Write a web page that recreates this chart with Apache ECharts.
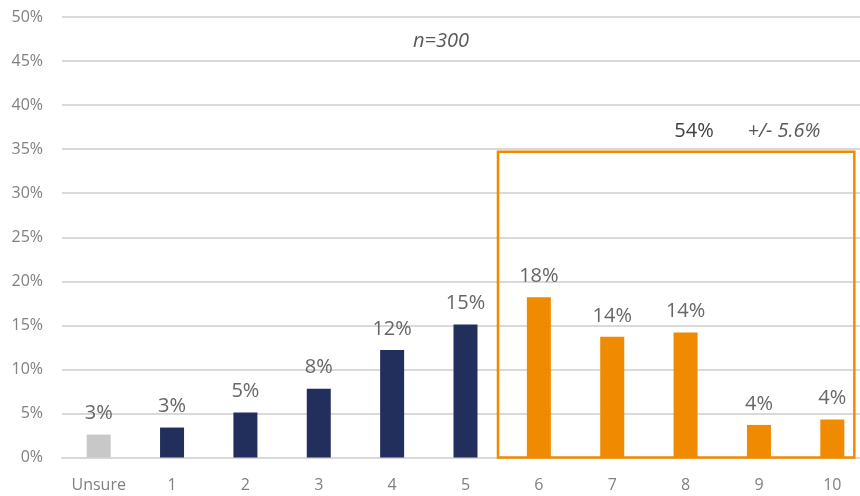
<!DOCTYPE html>
<html>
<head>
<meta charset="utf-8">
<script src="https://cdn.jsdelivr.net/npm/echarts@6/dist/echarts.min.js"></script>
<style>html,body{margin:0;padding:0;background:#fff}#c{width:860px;height:496px}</style>
</head>
<body>
<div id="c"></div>
<script>
const categories = ['Unsure', '1', '2', '3', '4', '5', '6', '7', '8', '9', '10'];
const values = [2.6, 3.4, 5.1, 7.8, 12.2, 15.1, 18.2, 13.7, 14.2, 3.7, 4.3];
const groups = ['unsure', 'low', 'low', 'low', 'low', 'low', 'high', 'high', 'high', 'high', 'high'];
const yTicks = [0, 5, 10, 15, 20, 25, 30, 35, 40, 45, 50];
const sampleNote = 'n=300';
const boxTotal = '54%';
const boxMargin = '+/- 5.6%';
const boxTopValue = 34.7;

const groupColors = { unsure: '#C8C8C8', low: '#222E5B', high: '#F08A00' };
const FONT = '"Open Sans", "Segoe UI", sans-serif';

const chart = echarts.init(document.getElementById('c'));
chart.setOption({
  animation: false,
  grid: { left: 62, top: 17, right: -9, bottom: 38.5, containLabel: false, outerBoundsMode: 'none' },
  xAxis: {
    type: 'category',
    data: categories,
    axisLine: { show: true, lineStyle: { color: '#D9D9D9', width: 2 } },
    axisTick: { show: false },
    axisLabel: { color: '#808080', fontSize: 16, fontFamily: FONT, margin: 20 }
  },
  yAxis: {
    type: 'value',
    min: yTicks[0],
    max: yTicks[yTicks.length - 1],
    interval: yTicks[1] - yTicks[0],
    axisLine: { show: false },
    axisTick: { show: false },
    splitLine: { lineStyle: { color: '#D9D9D9', width: 2 } },
    axisLabel: { color: '#808080', fontSize: 16, fontFamily: FONT, margin: 19, formatter: v => v + '%' }
  },
  series: [{
    type: 'bar',
    barWidth: 24,
    data: values.map((v, i) => ({ value: v, itemStyle: { color: groupColors[groups[i]] } })),
    label: {
      show: true,
      position: 'top',
      distance: 11,
      color: '#666666',
      fontSize: 20,
      fontFamily: FONT,
      formatter: p => Math.round(p.value) + '%'
    }
  }]
});

function drawBox() {
  const band = chart.convertToPixel({ xAxisIndex: 0 }, categories[1]) - chart.convertToPixel({ xAxisIndex: 0 }, categories[0]);
  const first = categories.indexOf('6');
  const last = categories.length - 1;
  const x0 = chart.convertToPixel({ xAxisIndex: 0 }, categories[first]) - 0.557 * band;
  const x1 = chart.convertToPixel({ xAxisIndex: 0 }, categories[last]) + 0.3 * band;
  const yTop = chart.convertToPixel({ yAxisIndex: 0 }, boxTopValue);
  const yBot = chart.convertToPixel({ yAxisIndex: 0 }, 0);
  chart.setOption({
    graphic: [
      { type: 'rect', shape: { x: x0, y: yTop, width: x1 - x0, height: yBot - yTop },
        style: { fill: 'none', stroke: '#F08A00', lineWidth: 2.5 }, z: 100 },
      { type: 'text', x: 441, y: 41, style: { text: sampleNote, fill: '#595959', font: 'italic 20px ' + FONT, align: 'center', verticalAlign: 'middle' } },
      { type: 'text', x: 694, y: 131, style: { text: boxTotal, fill: '#404040', font: '20px ' + FONT, align: 'center', verticalAlign: 'middle' } },
      { type: 'text', x: 784, y: 131, style: { text: boxMargin, fill: '#595959', font: 'italic 20px ' + FONT, align: 'center', verticalAlign: 'middle' } }
    ]
  });
}
drawBox();
</script>
</body>
</html>
